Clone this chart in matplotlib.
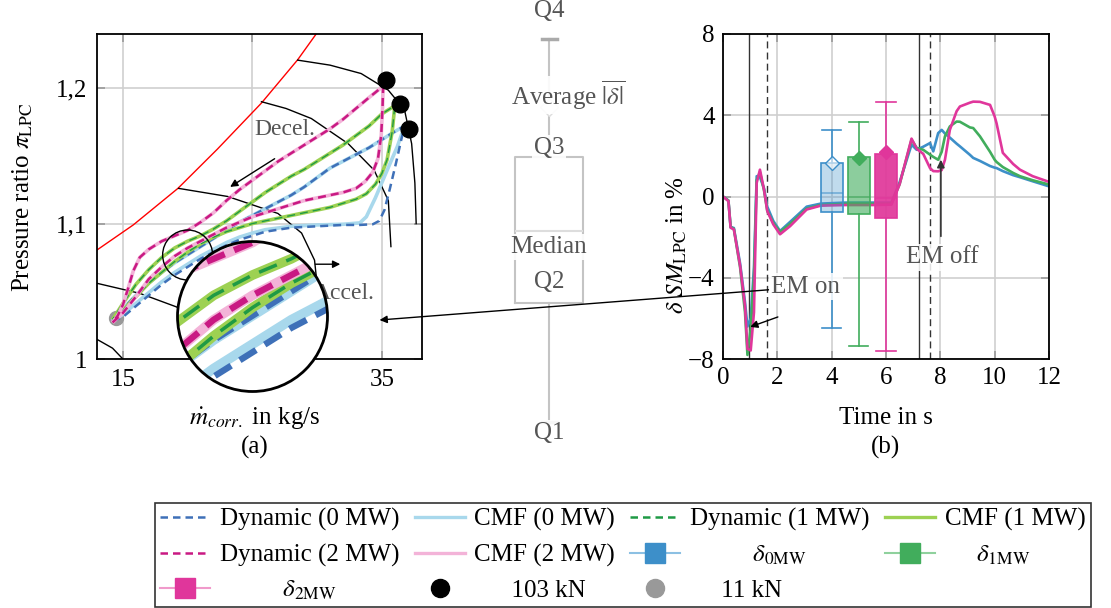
import matplotlib
matplotlib.use("Agg")
import matplotlib.pyplot as plt
from matplotlib.patches import Circle, Ellipse
from matplotlib.lines import Line2D

plt.rcParams["font.family"] = ["Liberation Serif", "DejaVu Serif"]
plt.rcParams["mathtext.fontset"] = "stix"
plt.rcParams["font.size"] = 18
plt.rcParams["axes.unicode_minus"] = True

W, H = 1111, 608

def fx(x):
    return x / W

def fy(y):
    return 1 - y / H

# ---------------- data, panel (a): compressor map loops ----------------
blue_acc_x = [14.2, 15.0, 16.0, 17.0, 18.0, 19.0, 20.0, 21.0, 22.0, 23.0, 24.0, 25.0, 26.0, 28.0, 30.0, 32.0, 33.3, 33.8, 34.5, 35.3, 36.2, 36.75]
blue_acc_y = [1.028, 1.033, 1.041, 1.049, 1.057, 1.064, 1.070, 1.076, 1.081, 1.086, 1.090, 1.093, 1.0955, 1.098, 1.099, 1.0995, 1.1005, 1.105, 1.119, 1.137, 1.157, 1.172]
blue_acc_x_dyn = [14.2, 15.0, 16.0, 17.0, 18.0, 19.0, 20.0, 21.0, 22.0, 23.0, 24.0, 25.0, 26.0, 28.0, 30.0, 32.0, 33.3, 34.3, 34.8, 35.2, 35.6, 36.1, 36.5, 36.75]
blue_acc_y_dyn = [1.028, 1.031, 1.039, 1.047, 1.055, 1.062, 1.068, 1.074, 1.079, 1.084, 1.088, 1.091, 1.094, 1.097, 1.098, 1.099, 1.099, 1.0995, 1.102, 1.110, 1.125, 1.145, 1.162, 1.172]
blue_dec_x = [36.75, 36.0, 35.0, 34.0, 33.0, 32.0, 31.0, 30.0, 29.0, 28.0, 27.0, 26.0, 25.0, 24.0, 23.0, 22.0, 21.0, 20.0, 19.0, 18.0, 17.0, 16.0, 15.0, 14.2]
blue_dec_y = [1.172, 1.168, 1.162, 1.156, 1.151, 1.146, 1.141, 1.134, 1.127, 1.121, 1.116, 1.111, 1.106, 1.101, 1.095, 1.089, 1.083, 1.077, 1.071, 1.064, 1.056, 1.047, 1.037, 1.028]

green_acc_x = [14.2, 15.0, 16.0, 17.0, 18.0, 19.0, 20.0, 21.0, 22.0, 23.0, 24.0, 25.0, 26.0, 27.0, 28.0, 29.0, 30.0, 31.0, 32.0, 33.0, 33.8, 34.5, 35.0, 35.4, 35.8, 36.0]
green_acc_y = [1.029, 1.036, 1.046, 1.056, 1.064, 1.072, 1.079, 1.085, 1.090, 1.094, 1.097, 1.100, 1.102, 1.104, 1.106, 1.108, 1.110, 1.112, 1.115, 1.118, 1.122, 1.129, 1.137, 1.147, 1.168, 1.187]
green_dec_x = [36.0, 35.0, 34.0, 33.0, 32.0, 31.0, 30.0, 29.0, 28.0, 27.0, 26.0, 25.0, 24.0, 23.0, 22.0, 21.0, 20.0, 19.0, 18.0, 17.0, 16.0, 15.0, 14.2]
green_dec_y = [1.187, 1.181, 1.172, 1.165, 1.158, 1.152, 1.146, 1.140, 1.135, 1.129, 1.123, 1.116, 1.109, 1.102, 1.096, 1.091, 1.087, 1.082, 1.075, 1.066, 1.055, 1.041, 1.029]

mag_acc_x = [14.2, 15.0, 16.0, 17.0, 18.0, 19.0, 20.0, 21.0, 22.0, 23.0, 24.0, 25.0, 26.0, 27.0, 28.0, 29.0, 30.0, 31.0, 32.0, 33.0, 33.7, 34.3, 34.7, 34.95, 35.05, 35.1]
mag_acc_y = [1.027, 1.034, 1.046, 1.059, 1.068, 1.076, 1.082, 1.087, 1.092, 1.097, 1.101, 1.105, 1.108, 1.111, 1.114, 1.117, 1.119, 1.121, 1.123, 1.126, 1.131, 1.138, 1.148, 1.165, 1.185, 1.2015]
mag_dec_x = [35.1, 34.0, 33.0, 32.0, 31.0, 30.0, 29.0, 28.0, 27.0, 26.0, 25.0, 24.0, 23.0, 22.0, 21.0, 20.0, 19.0, 18.0, 17.0, 16.3, 15.8, 15.4, 15.0, 14.6, 14.2]
mag_dec_y = [1.2015, 1.193, 1.185, 1.177, 1.170, 1.164, 1.158, 1.152, 1.146, 1.139, 1.132, 1.125, 1.117, 1.108, 1.101, 1.095, 1.091, 1.087, 1.081, 1.075, 1.065, 1.052, 1.040, 1.032, 1.027]

surge_x = [13.0, 15.8, 19.25, 22.3, 25.7, 28.5, 30.0]
surge_y = [1.0805, 1.099, 1.126, 1.155, 1.189, 1.221, 1.241]
speed_lines = [
    ([28.5, 31.0, 33.4, 35.5, 36.75, 37.3, 37.55, 37.65], [1.2207, 1.217, 1.2108, 1.1985, 1.184, 1.159, 1.13, 1.1]),
    ([25.7, 27.6, 29.55, 32.4, 34.4, 35.5, 35.7], [1.19, 1.185, 1.1776, 1.159, 1.1395, 1.117, 1.083]),
    ([19.3, 23.1, 26.97, 28.8, 29.8, 30.0], [1.126, 1.12, 1.1075, 1.093, 1.073, 1.055]),
    ([13.0, 16.3, 19.1, 21.0], [1.0559, 1.0485, 1.0386, 1.03]),
    ([13.0, 14.2, 15.0], [1.0145, 1.008, 1.0]),
]
dots_103_x = [35.33, 36.4, 37.1]
dots_103_y = [1.2057, 1.188, 1.170]
dot_11_x = [14.5]
dot_11_y = [1.030]

# ---------------- data, panel (b): surge margin over time ----------------
t = [0, 0.2, 0.28, 0.4, 0.63, 0.81, 0.9, 1.02, 1.14, 1.24, 1.36, 1.51, 1.63, 1.85, 2.1, 2.47, 3.08, 3.6, 4.5, 5.5, 6.2, 6.5,
     6.94, 7.13, 7.37, 7.62, 7.74, 7.92, 8.05, 8.17, 8.35, 8.6, 8.72, 9.09, 9.21, 9.46, 9.83, 10.0, 10.07, 10.3, 10.68, 10.93, 11.4, 12.0]
sm_0mw = [0, -0.2, -1.5, -1.55, -3.3, -5.2, -6.4, -6.0, -3.5, 1.0, 0.95, 0.4, -0.5, -1.2, -1.7, -1.25, -0.5, -0.35, -0.3, -0.3, -0.3, 0.7,
          2.55, 2.3, 2.45, 2.63, 2.22, 3.12, 3.28, 3.1, 2.9, 2.6, 2.47, 2.05, 1.9, 1.75, 1.5, 1.42, 1.4, 1.25, 1.05, 0.95, 0.75, 0.5]
sm_1mw = [0, -0.2, -1.5, -1.6, -3.5, -5.7, -7.8, -6.5, -4.0, 0.8, 1.2, 0.3, -0.7, -1.3, -1.75, -1.35, -0.6, -0.42, -0.36, -0.36, -0.35, 0.6,
          2.8, 2.39, 2.3, 2.06, 1.95, 1.81, 2.2, 2.96, 3.45, 3.69, 3.68, 3.4, 3.37, 2.96, 2.2, 1.81, 1.7, 1.45, 1.16, 1.0, 0.8, 0.59]
sm_2mw = [0, -0.23, -1.54, -1.62, -3.41, -5.38, -7.5, -7.58, -5.7, 0.67, 1.32, 0.34, -0.72, -1.37, -1.86, -1.46, -0.64, -0.45, -0.42, -0.42, -0.4, 0.6,
          2.85, 2.35, 2.1, 1.4, 1.25, 1.24, 1.3, 1.81, 3.28, 4.2, 4.43, 4.62, 4.67, 4.66, 4.51, 3.94, 3.6, 2.15, 1.6, 1.32, 1.0, 0.72]

box_pos = [4, 5, 6]
box_whislo = [-6.47, -7.35, -7.6]
box_q1 = [-0.78, -0.88, -1.08]
box_med = [0.15, 0.0, -0.05]
box_q3 = [1.67, 1.96, 2.1]
box_whishi = [3.28, 3.68, 4.66]
box_mean = [1.65, 1.9, 2.2]

em_on_t = [0.97, 1.62]
em_off_t = [7.2, 7.62]

# key box (middle sketch), vertical layout units
key_stats = dict(whislo=422, q1=303, med=231, q3=157, whishi=39, mean=107)

# colours
c_dyn = ["#3e70b8", "#1f9a45", "#c91983"]
c_cmf = ["#a8d8ec", "#9dd152", "#f3b3d8"]
c_sm = ["#3d8fc9", "#41ad5c", "#e0369b"]
c_sm_light = ["#8cc0e3", "#8fd19d", "#f09acb"]
box_face = [(0.24, 0.56, 0.79, 0.32), (0.25, 0.68, 0.36, 0.6), (0.88, 0.21, 0.6, 0.92)]
dyn_scale = [1.0, 0.55, 1.0]

fig = plt.figure(figsize=(W / 100, H / 100), dpi=100)

# ================= panel (a) =================
ax_a = fig.add_axes([fx(97), fy(359), 325 / W, 325 / H])
ax_a.set_xlim(13, 38.1)
ax_a.set_ylim(1.0, 1.24)
ax_a.set_xticks([15, 25, 35])
ax_a.set_xticklabels(["15", "", "35"])
ax_a.set_yticks([1.0, 1.1, 1.2])
ax_a.set_yticklabels(["1", "1,1", "1,2"])
ax_a.grid(color="#cfcfcf", lw=1.2)
ax_a.set_axisbelow(True)
ax_a.tick_params(direction="in", length=6, width=1.2, color="#999999", top=True, right=True, pad=7)
for sp in ax_a.spines.values():
    sp.set_linewidth(1.3)

ax_a.plot(surge_x, surge_y, color="red", lw=1)
for sx, sy in speed_lines:
    ax_a.plot(sx, sy, color="black", lw=1)

loops = [
    (blue_acc_x + blue_dec_x[1:], blue_acc_y + blue_dec_y[1:], blue_acc_x_dyn + blue_dec_x[1:], blue_acc_y_dyn + blue_dec_y[1:]),
    (green_acc_x + green_dec_x[1:], green_acc_y + green_dec_y[1:], green_acc_x + green_dec_x[1:], green_acc_y + green_dec_y[1:]),
    (mag_acc_x + mag_dec_x[1:], mag_acc_y + mag_dec_y[1:], mag_acc_x + mag_dec_x[1:], mag_acc_y + mag_dec_y[1:]),
]


def draw_loops(ax, lw_cmf, lw_dyn, dash):
    out = []
    for i, (cx, cy, dx, dy) in enumerate(loops):
        out += ax.plot(cx, cy, color=c_cmf[i], lw=lw_cmf, solid_capstyle="butt", zorder=3)
        w = lw_dyn * dyn_scale[i]
        out += ax.plot(dx, dy, color=c_dyn[i], lw=w, ls=(0, (dash[0] * lw_dyn / w, dash[1] * lw_dyn / w)), zorder=3)
    return out


draw_loops(ax_a, 2.6, 1.8, (3.2, 2.0))
ax_a.plot(dot_11_x, dot_11_y, "o", ms=10, color="#999999", zorder=2.5)
ax_a.plot(dots_103_x, dots_103_y, "o", ms=12, color="black", zorder=5)

ax_a.text(27.5, 1.1695, "Decel.", color="#555555", ha="center", va="center", fontsize=17)
ax_a.annotate("", xy=(23.1, 1.126), xytext=(26.9, 1.149),
              arrowprops=dict(arrowstyle="-|>", color="black", lw=1, mutation_scale=11))
ax_a.text(32.1, 1.0485, "Accel.", color="#555555", ha="center", va="center", fontsize=17)
ax_a.annotate("", xy=(32.0, 1.070), xytext=(29.65, 1.070),
              arrowprops=dict(arrowstyle="-|>", color="black", lw=1, mutation_scale=11))

# small zoom circle
zc_x, zc_y, zr_x, zr_y = 20.0, 1.0768, 1.93, 0.01845
ax_a.add_patch(Ellipse((zc_x, zc_y), 2 * zr_x, 2 * zr_y, fill=False, color="black", lw=1, zorder=4))
ax_a.plot([21.3, 21.7], [1.0685, 1.0648], color="black", lw=1, zorder=4)

fig.text(fx(255), fy(418), r"$\dot{m}_{corr.}$ in kg/s", ha="center", va="center", fontsize=18)
fig.text(fx(255), fy(447), "(a)", ha="center", va="center", fontsize=18)
fig.text(fx(23), fy(197), r"Pressure ratio $\pi_{\mathrm{LPC}}$", rotation=90, ha="center", va="center", fontsize=18)

# ================= middle key =================
ax_m = fig.add_axes([fx(480), fy(460), 170 / W, 460 / H])
ax_m.set_xlim(0, 170)
ax_m.set_ylim(460, 0)
ax_m.axis("off")
ks = dict(key_stats)
ks["fliers"] = []
ax_m.bxp([ks], positions=[69], widths=68, capwidths=15, showmeans=True, showfliers=False, manage_ticks=False,
         boxprops=dict(color="#c4c4c4", lw=1.5),
         whiskerprops=dict(color="#c4c4c4", lw=1.5),
         capprops=dict(color="#aaaaaa", lw=2.5),
         medianprops=dict(color="#dddddd", lw=1.5),
         meanprops=dict(marker="D", markerfacecolor="white", markeredgecolor="#dddddd", markersize=9))
key_box = dict(boxstyle="square,pad=0.08", facecolor="white", edgecolor="none", alpha=0.9)
for label, kx, ky in [("Q4", 69, 11), (r"Average $\overline{|\delta|}$", 88, 95), ("Q3", 69, 148),
                      ("Median", 69, 247), ("Q2", 69, 282), ("Q1", 69, 433)]:
    ax_m.text(kx, ky, label, ha="center", va="center", color="#555555", fontsize=18, bbox=key_box)

# ================= panel (b) =================
ax_b = fig.add_axes([fx(723), fy(359), 326 / W, 325 / H])
for v in [em_on_t[0], em_off_t[0]]:
    ax_b.axvline(v, color="#333333", lw=1, zorder=1.5)
for v in [em_on_t[1], em_off_t[1]]:
    ax_b.axvline(v, color="#333333", lw=1, ls=(0, (5, 3)), zorder=1.5)

for i, s in enumerate([sm_0mw, sm_1mw, sm_2mw]):
    ax_b.plot(t, s, color=c_sm[i], lw=1.9, zorder=2)

for i in range(3):
    st = dict(whislo=box_whislo[i], q1=box_q1[i], med=box_med[i], q3=box_q3[i],
              whishi=box_whishi[i], mean=box_mean[i], fliers=[])
    mfc = (1, 1, 1, 0.6) if i == 0 else c_sm[i]
    ax_b.bxp([st], positions=[box_pos[i]], widths=0.8, capwidths=0.7, showmeans=True,
             showfliers=False, patch_artist=True, zorder=3, manage_ticks=False,
             boxprops=dict(facecolor=box_face[i], edgecolor=c_sm[i], lw=1.2),
             whiskerprops=dict(color=c_sm[i], lw=1.2),
             capprops=dict(color=c_sm[i], lw=1.2),
             medianprops=dict(color=c_sm[i], lw=1.2, alpha=0.6),
             meanprops=dict(marker="D", markerfacecolor=mfc, markeredgecolor=c_sm[i], markersize=7))

ax_b.set_xlim(0, 12)
ax_b.set_ylim(-8, 8)
ax_b.set_xticks(range(0, 13, 2))
ax_b.set_yticks([-8, -4, 0, 4, 8])
ax_b.grid(color="#cfcfcf", lw=1.2)
ax_b.set_axisbelow(True)
ax_b.tick_params(direction="in", length=6, width=1.2, color="#999999", top=True, right=True, pad=6)
for sp in ax_b.spines.values():
    sp.set_linewidth(1.3)

txt_box = dict(boxstyle="square,pad=0.1", facecolor="white", edgecolor="none", alpha=0.85)
ax_b.annotate("EM on", xy=(34.82, 1.0288), xycoords=ax_a.transData, xytext=(3.05, -4.45),
              textcoords="data", ha="center", va="center", color="#555555", fontsize=18, bbox=txt_box,
              arrowprops=dict(arrowstyle="-|>", color="black", lw=1, mutation_scale=11, shrinkA=0, shrinkB=0),
              zorder=6)
ax_b.annotate("", xy=(1.0, -6.42), xytext=(2.02, -5.93),
              arrowprops=dict(arrowstyle="-|>", color="black", lw=1, mutation_scale=11, shrinkA=0, shrinkB=0))
ax_b.text(8.06, -3.0, "EM off", ha="center", va="center", color="#555555", fontsize=18, bbox=txt_box, zorder=6)
ax_b.annotate("", xy=(8.02, 1.81), xytext=(8.02, -1.96),
              arrowprops=dict(arrowstyle="-|>", color="#333333", lw=1.2, mutation_scale=11, shrinkA=0, shrinkB=0),
              zorder=6)

fig.text(fx(677), fy(245), r"$\delta\ SM_{\mathrm{LPC}}$ in %", rotation=90, ha="center", va="center", fontsize=18)
fig.text(fx(886), fy(418), "Time in s", ha="center", va="center", fontsize=18)
fig.text(fx(886), fy(447), "(b)", ha="center", va="center", fontsize=18)

# ================= magnified inset =================
ins = fig.add_axes([fx(177.5), fy(391.5), 150 / W, 150 / H])
ins.set_xlim(zc_x - zr_x, zc_x + zr_x)
ins.set_ylim(zc_y - zr_y, zc_y + zr_y)
ins.axis("off")
disc = Circle((0.5, 0.5), 0.5, transform=ins.transAxes, facecolor="white", edgecolor="none", zorder=0)
ins.add_patch(disc)
for ln in draw_loops(ins, 7.0, 4.6, (3.0, 1.6)):
    ln.set_clip_path(disc)
ins.add_patch(Circle((0.5, 0.5), 0.5, transform=ins.transAxes, fill=False, edgecolor="black",
                     lw=2, zorder=10, clip_on=False))

# ================= legend =================
def dyn_h(i):
    return Line2D([], [], color=c_dyn[i], lw=1.8, ls=(0, (3, 2)))

def cmf_h(i):
    return Line2D([], [], color=c_cmf[i], lw=2.4)

def delta_h(i):
    return Line2D([], [], color=c_sm_light[i], lw=1.5, marker="s", markersize=15,
                  markerfacecolor=c_sm[i], markeredgecolor=c_sm[i])

h_103 = Line2D([], [], ls="none", marker="o", markersize=13, color="black")
h_11 = Line2D([], [], ls="none", marker="o", markersize=13, color="#999999")

handles = [dyn_h(0), dyn_h(2), delta_h(2),
           cmf_h(0), cmf_h(2), h_103,
           dyn_h(1), delta_h(0), h_11,
           cmf_h(1), delta_h(1)]
labels = ["Dynamic (0 MW)", "Dynamic (2 MW)", "          $\\delta_{2\\mathrm{MW}}$",
          "CMF (0 MW)", "CMF (2 MW)", "      103 kN",
          "Dynamic (1 MW)", "          $\\delta_{0\\mathrm{MW}}$", "     11 kN",
          "CMF (1 MW)", "     $\\delta_{1\\mathrm{MW}}$"]
leg = fig.legend(handles, labels, loc="upper left", bbox_to_anchor=(fx(155), fy(503)), ncol=4,
                 frameon=True, fancybox=False, edgecolor="black", fontsize=18, handlelength=2.0,
                 handletextpad=0.4, columnspacing=0.6, borderaxespad=0, borderpad=0.2, labelspacing=0.5)
leg.get_frame().set_linewidth(1.2)

fig.savefig("out.png", dpi=100)
